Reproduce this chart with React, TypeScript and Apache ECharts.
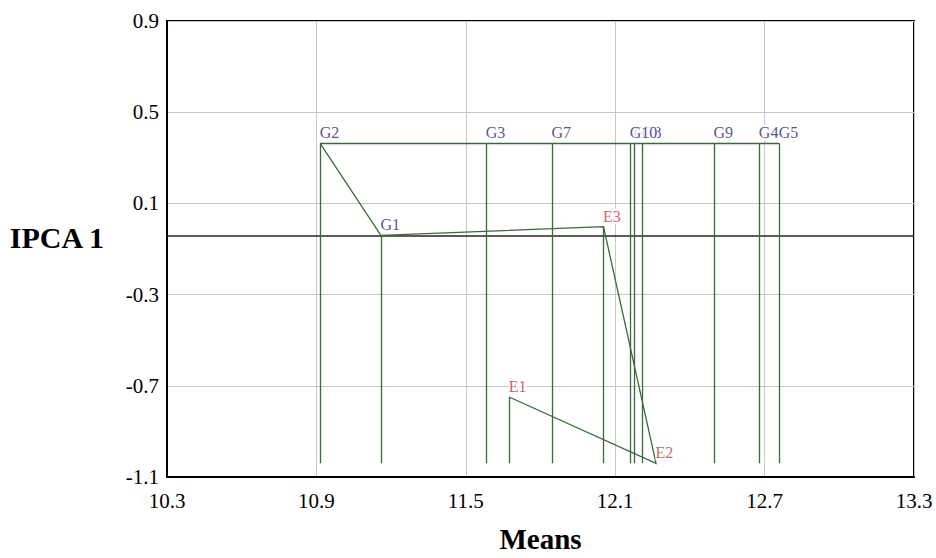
import React, { useEffect, useRef } from 'react';
import * as echarts from 'echarts';

// ---- data ----
const genotypes = ['G1', 'G2', 'G3', 'G4', 'G5', 'G6', 'G7', 'G8', 'G9', 'G10'];
const genoMeans = [11.159, 10.915, 11.582, 12.679, 12.759, 12.177, 11.846, 12.209, 12.497, 12.16];
const genoIPCA1 = [-0.04, 0.363, 0.363, 0.363, 0.363, 0.363, 0.363, 0.363, 0.363, 0.363];

const environments = ['E1', 'E2', 'E3'];
const envMeans = [11.674, 12.264, 12.053];
const envIPCA1 = [-0.749, -1.04, -0.002];

const dropBase = -1.04; // level the vertical lines fall to
const referenceLine = -0.04; // dark horizontal line
const pathOrder = ['G2', 'G1', 'E3', 'E2', 'E1'];
const topLineEnds = ['G2', 'G5'];

// axis ticks
const X_MIN = 10.3;
const X_MAX = 13.3;
const X_STEP = 0.6;
const Y_MIN = -1.1;
const Y_MAX = 0.9;
const Y_STEP = 0.4;

const FONT = "'Liberation Serif', 'Times New Roman', serif";

export default function App() {
  const ref = useRef<HTMLDivElement>(null);

  useEffect(() => {
    if (!ref.current) return;
    const chart = echarts.init(ref.current, null, { renderer: 'svg' });

    const px = (v: number) => v - X_MIN;
    const py = (v: number) => v - Y_MIN;

    const pointOf: Record<string, [number, number]> = {};
    genotypes.forEach((g, i) => (pointOf[g] = [genoMeans[i], genoIPCA1[i]]));
    environments.forEach((e, i) => (pointOf[e] = [envMeans[i], envIPCA1[i]]));
    const c = (name: string) => [px(pointOf[name][0]), py(pointOf[name][1])];

    const drops = [...genotypes, ...environments].map((n) => ({
      coords: [c(n), [px(pointOf[n][0]), py(dropBase)]],
    }));

    const green = '#3a693a';

    const pointLabel = (color: string) => ({
      show: true,
      position: [0, 0],
      align: 'left',
      verticalAlign: 'bottom',
      offset: [0, -2],
      formatter: (p: any) => p.name,
      color,
      fontSize: 16,
      fontFamily: FONT,
      backgroundColor: '#fff',
    });

    const option: any = {
      animation: false,
      backgroundColor: '#fff',
      textStyle: { fontFamily: FONT },
      grid: {
        left: 167,
        top: 21,
        right: 22,
        bottom: 71,
        show: true,
        borderColor: '#000',
        borderWidth: 2,
      },
      xAxis: {
        type: 'value',
        min: 0,
        max: X_MAX - X_MIN,
        interval: X_STEP,
        name: 'Means',
        nameLocation: 'middle',
        nameGap: 47,
        nameTextStyle: { fontSize: 29, fontWeight: 'bold', color: '#000', fontFamily: FONT },
        axisLine: { show: true, lineStyle: { color: '#000', width: 2 } },
        axisTick: { show: false },
        axisLabel: {
          margin: 13,
          fontSize: 21,
          color: '#000',
          fontFamily: FONT,
          formatter: (v: number) => (v + X_MIN).toFixed(1),
        },
        splitLine: { show: true, lineStyle: { color: '#c8c8c8', width: 1 } },
      },
      yAxis: {
        type: 'value',
        min: 0,
        max: Y_MAX - Y_MIN,
        interval: Y_STEP,
        name: 'IPCA 1',
        nameLocation: 'middle',
        nameRotate: 0,
        nameGap: 63,
        nameTextStyle: {
          fontSize: 30,
          fontWeight: 'bold',
          color: '#000',
          fontFamily: FONT,
          verticalAlign: 'bottom',
          lineHeight: 24,
        },
        axisLine: { show: true, lineStyle: { color: '#000', width: 2 } },
        axisTick: { show: false },
        axisLabel: {
          margin: 8,
          fontSize: 21,
          color: '#000',
          fontFamily: FONT,
          formatter: (v: number) => (v + Y_MIN).toFixed(1),
        },
        splitLine: { show: true, lineStyle: { color: '#c8c8c8', width: 1 } },
      },
      series: [
        {
          type: 'lines',
          coordinateSystem: 'cartesian2d',
          z: 3,
          silent: true,
          lineStyle: { color: '#262626', width: 1.5, opacity: 1 },
          data: [{ coords: [[0, py(referenceLine)], [X_MAX - X_MIN, py(referenceLine)]] }],
        },
        {
          type: 'lines',
          coordinateSystem: 'cartesian2d',
          z: 4,
          silent: true,
          lineStyle: { color: green, width: 1.3, opacity: 1 },
          data: drops,
        },
        {
          type: 'lines',
          coordinateSystem: 'cartesian2d',
          z: 4,
          silent: true,
          lineStyle: { color: green, width: 1.3, opacity: 1 },
          data: [{ coords: topLineEnds.map(c) }],
        },
        {
          type: 'lines',
          coordinateSystem: 'cartesian2d',
          polyline: true,
          z: 4,
          silent: true,
          lineStyle: { color: green, width: 1.3, opacity: 1 },
          data: [{ coords: pathOrder.map(c) }],
        },
        {
          type: 'scatter',
          z: 6,
          silent: true,
          symbolSize: 1,
          itemStyle: { color: 'rgba(0,0,0,0)' },
          label: pointLabel('#27277a'),
          data: genotypes.map((g, i) => ({ name: g, value: [px(genoMeans[i]), py(genoIPCA1[i])] })),
        },
        {
          type: 'scatter',
          z: 6,
          silent: true,
          symbolSize: 1,
          itemStyle: { color: 'rgba(0,0,0,0)' },
          label: pointLabel('#cc3535'),
          data: environments.map((e, i) => ({ name: e, value: [px(envMeans[i]), py(envIPCA1[i])] })),
        },
      ],
    };

    chart.setOption(option);
    return () => chart.dispose();
  }, []);

  return (
    <div
      ref={ref}
      style={{ position: 'absolute', left: 0, top: 0, width: 936, height: 558, background: '#fff' }}
    />
  );
}
